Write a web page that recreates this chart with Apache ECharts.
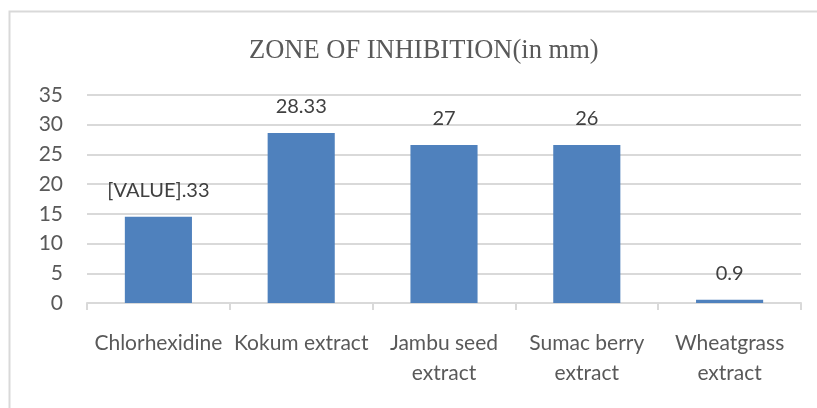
<!DOCTYPE html>
<html>
<head>
<meta charset="utf-8">
<script src="https://cdn.jsdelivr.net/npm/echarts@6/dist/echarts.min.js"></script>
<style>html,body{margin:0;padding:0;background:#fff;}#c{width:817px;height:408px;}</style>
</head>
<body>
<div id="c"></div>
<script>
const titleText = "ZONE OF INHIBITION(in mm)";
const categories = ["Chlorhexidine", "Kokum extract", "Jambu seed\nextract", "Sumac berry\nextract", "Wheatgrass\nextract"];
const values = [14.5, 28.6, 26.6, 26.6, 0.55];
const labelTexts = ["[VALUE].33", "28.33", "27", "26", "0.9"];
const yTicks = {min: 0, max: 35, interval: 5};

const chart = echarts.init(document.getElementById('c'));
chart.setOption({
  animation: false,
  backgroundColor: '#fff',
  graphic: [{
    type: 'rect', shape: {x: 9.5, y: 11.5, width: 830, height: 420},
    style: {fill: 'none', stroke: '#d9d9d9', lineWidth: 2}, silent: true
  }],
  title: {
    text: titleText, left: 244, top: 33,
    textStyle: {fontFamily: 'Liberation Serif', fontSize: 26.5, fontWeight: 'normal', color: '#595959'}
  },
  grid: {left: 87, right: 16, top: 95, bottom: 105, containLabel: false},
  xAxis: {
    type: 'category', data: categories,
    axisLine: {lineStyle: {color: '#d9d9d9', width: 2}},
    axisTick: {show: true, length: 7, lineStyle: {color: '#d9d9d9', width: 2}},
    axisLabel: {fontFamily: 'Lato', fontSize: 21, color: '#595959', margin: 25, lineHeight: 30, interval: 0}
  },
  yAxis: {
    type: 'value', min: yTicks.min, max: yTicks.max, interval: yTicks.interval,
    axisLine: {show: false}, axisTick: {show: false},
    splitLine: {lineStyle: {color: '#d9d9d9', width: 2}},
    axisLabel: {fontFamily: 'Lato', fontSize: 21, color: '#595959', margin: 24}
  },
  series: [{
    type: 'bar', data: values, barCategoryGap: '53%',
    itemStyle: {color: '#4f81bd'},
    label: {
      show: true, position: 'top', distance: 16,
      fontFamily: 'Lato', fontSize: 20, color: '#404040',
      formatter: p => labelTexts[p.dataIndex]
    }
  }]
});
</script>
</body>
</html>
